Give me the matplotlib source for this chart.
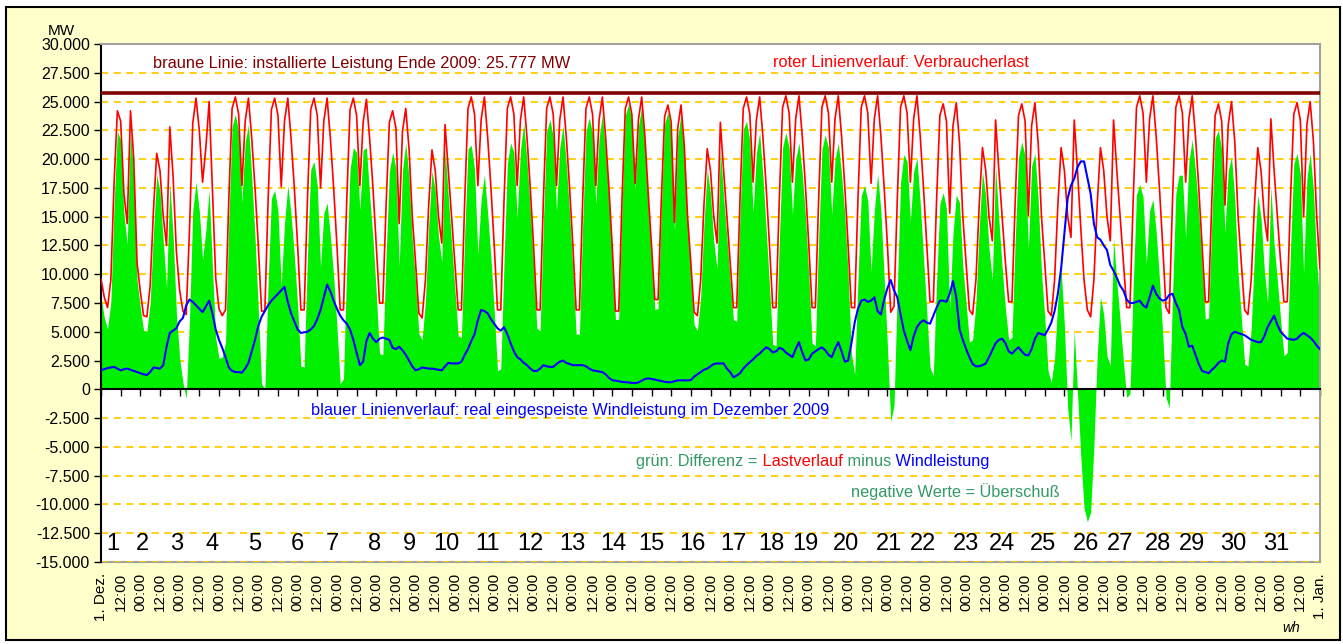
import numpy as np
import matplotlib.pyplot as plt
from matplotlib.patches import Rectangle

plt.rcParams['font.family'] = ['Liberation Sans', 'DejaVu Sans']

# Verbraucherlast in MW, alle 2 Stunden (00:00, 02:00 ... 22:00), eine Zeile pro Tag
load = [
    9600, 8000, 7100, 9500, 18000, 24200, 23300, 17000, 14400, 24200, 20000, 11000,    # 1
    8500, 6400, 6300, 9000, 15500, 20500, 19000, 15000, 12500, 22800, 18500, 12000,    # 2
    8600, 6800, 6500, 13800, 23100, 25300, 22500, 18000, 21000, 25000, 17300, 9700,    # 3
    7000, 6400, 6900, 16500, 24400, 25400, 23900, 17700, 23300, 25300, 21800, 17500,   # 4
    12500, 6800, 6800, 16500, 24300, 25300, 23800, 17600, 23300, 25300, 21800, 17500,  # 5
    12500, 6900, 6900, 16500, 24300, 25300, 23800, 17500, 23300, 25300, 21800, 17500,  # 6
    12500, 6900, 6900, 16500, 24300, 25300, 23800, 17700, 23200, 25200, 21700, 17500,  # 7
    12500, 7500, 7500, 16000, 23200, 24200, 22700, 14400, 22400, 24400, 20900, 15000,  # 8
    11000, 6600, 6200, 9500, 16000, 20800, 19000, 15000, 12700, 23000, 19000, 15000,   # 9
    11000, 6900, 6900, 16500, 24400, 25400, 23900, 17700, 23400, 25400, 21900, 17500,  # 10
    12500, 6900, 6900, 16500, 24400, 25400, 23900, 17700, 23400, 25400, 21900, 17500,  # 11
    12500, 6900, 6900, 16500, 24400, 25400, 23900, 17700, 23400, 25400, 21900, 17500,  # 12
    12500, 6900, 6900, 16500, 24400, 25400, 23900, 17700, 23400, 25400, 21900, 17500,  # 13
    12500, 6800, 6800, 16500, 24400, 25400, 23900, 17900, 23400, 25400, 21900, 17000,  # 14
    12500, 7800, 7800, 16500, 23700, 24700, 23200, 14500, 22700, 24700, 21200, 15000,  # 15
    11000, 6700, 6400, 9500, 16000, 20900, 19000, 15000, 12700, 23200, 19000, 15000,   # 16
    11000, 7100, 7100, 16500, 24400, 25400, 23900, 18000, 23400, 25400, 21900, 17500,  # 17
    12500, 7100, 7100, 16500, 24500, 25500, 24000, 18000, 23500, 25500, 22000, 17500,  # 18
    12500, 7100, 7100, 16500, 24500, 25500, 24000, 18000, 23500, 25500, 22000, 17500,  # 19
    12500, 7100, 7100, 16500, 24500, 25500, 24000, 17900, 23500, 25500, 22000, 17500,  # 20
    12500, 6700, 7200, 16500, 24500, 25500, 24000, 18000, 23500, 25500, 22000, 17500,  # 21
    12500, 7600, 7600, 16500, 23800, 24800, 23300, 15300, 22900, 24900, 21400, 15000,  # 22
    11000, 6900, 6500, 9500, 16000, 21000, 19000, 15000, 12900, 23400, 19000, 15000,   # 23
    11000, 7600, 7600, 16500, 23800, 24800, 23300, 15100, 22900, 24900, 21400, 15000,  # 24
    11000, 6800, 6400, 9500, 16000, 21000, 19000, 15000, 13200, 23400, 19000, 14000,   # 25
    9500, 6900, 6300, 9500, 16000, 21000, 19000, 15000, 12900, 23400, 19000, 15000,    # 26
    11000, 7100, 7100, 16500, 24500, 25500, 24000, 18000, 23500, 25500, 22000, 17500,  # 27
    12500, 7100, 6600, 16500, 24500, 25500, 24000, 18000, 23500, 25500, 22000, 17500,  # 28
    12500, 7600, 7600, 16500, 23800, 24800, 23300, 16000, 23000, 25000, 21500, 15000,  # 29
    11000, 6900, 6500, 9500, 16000, 21000, 19000, 15000, 12900, 23500, 19000, 15000,   # 30
    11000, 7600, 7600, 16500, 23900, 24900, 23400, 15000, 23000, 25000, 21500, 15000,  # 31
    10500,                                                                             # 1. Jan
]

# eingespeiste Windleistung in MW, gleiches Raster
wind = [
    1650, 1750, 1850, 1900, 1950, 1800, 1650, 1750, 1800, 1700, 1600, 1500,           # 1
    1400, 1300, 1250, 1500, 1900, 1850, 1800, 2100, 3700, 4900, 5100, 5300,           # 2
    5900, 6200, 7300, 7800, 7600, 7300, 7000, 6700, 7200, 7700, 6600, 5200,           # 3
    4300, 3600, 2800, 1900, 1600, 1500, 1500, 1450, 1800, 2300, 3300, 4300,           # 4
    5500, 6300, 6800, 7300, 7700, 8000, 8300, 8600, 8900, 7600, 6600, 5900,           # 5
    5200, 4900, 4950, 5000, 5200, 5500, 6100, 6900, 8000, 9100, 8500, 7700,           # 6
    7000, 6400, 6000, 5700, 5200, 4300, 3200, 2100, 2400, 4200, 4900, 4400,           # 7
    4100, 4400, 4500, 4400, 4300, 3600, 3500, 3700, 3400, 3000, 2500, 2000,           # 8
    1650, 1750, 1900, 1850, 1800, 1800, 1750, 1700, 1650, 2000, 2300, 2250,           # 9
    2250, 2250, 2400, 3000, 3500, 4200, 4800, 6000, 6900, 6800, 6600, 6100,           # 10
    5700, 5300, 5100, 5400, 4800, 4000, 3300, 2800, 2600, 2300, 2100, 1800,           # 11
    1600, 1600, 1800, 2100, 2000, 1950, 1950, 2200, 2400, 2500, 2300, 2200,           # 12
    2100, 2100, 2100, 2100, 2000, 1800, 1650, 1600, 1550, 1500, 1300, 1000,           # 13
    800, 750, 700, 650, 620, 600, 560, 540, 600, 750, 900, 950,                       # 14
    900, 850, 780, 720, 650, 620, 620, 700, 780, 780, 780, 780,                       # 15
    800, 1100, 1300, 1500, 1700, 1800, 2000, 2200, 2250, 2250, 2250, 1800,            # 16
    1500, 1050, 1200, 1400, 1800, 2100, 2350, 2600, 2900, 3100, 3400, 3650,           # 17
    3500, 3200, 3300, 3600, 3500, 3200, 3000, 2800, 3500, 4100, 3200, 2500,           # 18
    2600, 3100, 3300, 3500, 3650, 3400, 3000, 2800, 3500, 4100, 3300, 2400,           # 19
    2500, 4000, 5800, 7000, 7700, 7800, 7600, 7700, 8000, 6800, 6500, 7800,           # 20
    8800, 9500, 8600, 8000, 6500, 5100, 4200, 3400, 4600, 5400, 5800, 6000,           # 21
    5800, 5700, 6400, 7100, 7700, 7700, 7600, 8300, 9400, 8000, 5200, 4300,           # 22
    3500, 2800, 2200, 2000, 2000, 2100, 2250, 2800, 3400, 4000, 4300, 4400,           # 23
    4000, 3300, 3100, 3400, 3650, 3300, 3000, 2950, 3500, 4400, 4900, 4800,           # 24
    4700, 5200, 5800, 6800, 8300, 10500, 13500, 16600, 17700, 18300, 19300, 19800,    # 25
    19800, 18400, 17000, 14400, 13200, 13000, 12500, 12100, 10800, 10300, 9700, 9000, # 26
    8600, 7800, 7500, 7500, 7600, 7700, 7300, 7100, 8000, 9000, 8300, 7900,           # 27
    7700, 7800, 8200, 8300, 7500, 6900, 5400, 4800, 3700, 3800, 3000, 2200,           # 28
    1600, 1500, 1400, 1700, 1950, 2300, 2500, 2400, 4000, 4800, 5000, 4900,           # 29
    4800, 4700, 4500, 4300, 4200, 4100, 4100, 4600, 5400, 5900, 6400, 5600,           # 30
    5000, 4700, 4400, 4350, 4300, 4400, 4700, 4900, 4700, 4500, 4200, 3800,           # 31
    3500,                                                                             # 1. Jan
]

installed = 25777  # installierte Leistung Ende 2009

day_labels = [str(d) for d in range(1, 32)]
# Lage der Tageszahlen (Stunden ab 1. Dez. 00:00)
day_label_x = [7, 25, 46, 68, 94, 120, 141, 167, 188, 211, 236, 262, 288, 313, 336, 361,
               386, 409, 430, 455, 481, 502, 528, 550, 575, 601, 622, 645, 666, 691, 717]

tick_hours = list(range(0, 745, 12))
tick_labels = ['1. Dez.'] + ['12:00' if i % 2 else '00:00' for i in range(1, 62)] + ['1. Jan.']

hours = np.arange(len(load)) * 2
load = np.array(load)
wind = np.array(wind)
diff = load - wind

fig = plt.figure(figsize=(13.43, 6.44), dpi=100, facecolor='white')
fig.add_artist(Rectangle((6 / 1343, 4 / 644), 1334 / 1343, 633 / 644, transform=fig.transFigure,
                         facecolor='#FFFFCC', edgecolor='black', lw=1.5, zorder=-5))

ax = fig.add_axes([101 / 1343, 82 / 644, 1219 / 1343, 518 / 644])
ax.set_facecolor('white')
ax.set_xlim(0, 744)
ax.set_ylim(-15000, 30000)

ax.set_axisbelow(True)
ax.grid(axis='y', color='#FFCC00', linestyle=(0, (4, 3)), lw=1.3)

ax.fill_between(hours, 0, diff, color='#00F000', lw=0, zorder=1)
ax.plot(hours, load, color='#FF0000', lw=1.2, zorder=3)
ax.plot(hours, wind, color='#0000FF', lw=1.5, zorder=4)
ax.axhline(installed, color='#800000', lw=2.6, zorder=5)

# Achsen
ax.spines['bottom'].set_position(('data', 0))
ax.spines['bottom'].set_color('black')
ax.spines['bottom'].set_linewidth(1.5)
ax.spines['bottom'].set_zorder(6)
ax.spines['left'].set_color('black')
ax.spines['left'].set_linewidth(1.5)
for s in ['top', 'right']:
    ax.spines[s].set_color('#A0A0A0')
    ax.spines[s].set_linewidth(1.5)

ax.set_xticks(tick_hours)
ax.tick_params(axis='x', direction='out', length=5, width=1, labelbottom=False)
yt = list(range(-15000, 30001, 2500))
ax.set_yticks(yt)
ax.set_yticklabels([f"{v:,}".replace(',', '.') for v in yt])
ax.tick_params(axis='y', direction='out', length=5, width=1, labelsize=11.5, pad=3)

sec = ax.secondary_xaxis('bottom')
sec.set_xticks(tick_hours)
sec.set_xticklabels(tick_labels, rotation=90)
sec.tick_params(length=0, labelsize=11, pad=8)
sec.spines['bottom'].set_color('#A0A0A0')
sec.spines['bottom'].set_linewidth(1.5)

for x, lbl in zip(day_label_x, day_labels):
    ax.text(x, -13400, lbl, fontsize=17, ha='center', va='center', zorder=7)

# Beschriftungen
fs = 11.8
ax.text(31.8, 28330, 'braune Linie: installierte Leistung Ende 2009: 25.777 MW',
        color='#800000', fontsize=fs, ha='left', va='center')
ax.text(410, 28420, 'roter Linienverlauf: Verbraucherlast',
        color='#FF0000', fontsize=fs, ha='left', va='center')
ax.text(128.3, -1830, 'blauer Linienverlauf: real eingespeiste Windleistung im Dezember 2009',
        color='#0000FF', fontsize=fs, ha='left', va='center')
t1 = ax.text(326.8, -6260, 'grün: Differenz =', color='#339966', fontsize=fs, ha='left', va='center')
t2 = ax.annotate(' Lastverlauf', xy=(1, 0), xycoords=t1, color='#FF0000', fontsize=fs,
                 ha='left', va='bottom')
t3 = ax.annotate(' minus', xy=(1, 0), xycoords=t2, color='#339966', fontsize=fs,
                 ha='left', va='bottom')
ax.annotate(' Windleistung', xy=(1, 0), xycoords=t3, color='#0000FF', fontsize=fs,
            ha='left', va='bottom')
ax.text(457.5, -8860, 'negative Werte = Überschuß', color='#339966', fontsize=fs,
        ha='left', va='center')

fig.text(61 / 1343, 1 - 31 / 644, 'MW', fontsize=11, ha='center', va='center')
fig.text(1291 / 1343, 1 - 628 / 644, 'wh', fontsize=10, style='italic', ha='center', va='center')

fig.savefig('out.png', dpi=100, facecolor='white')
